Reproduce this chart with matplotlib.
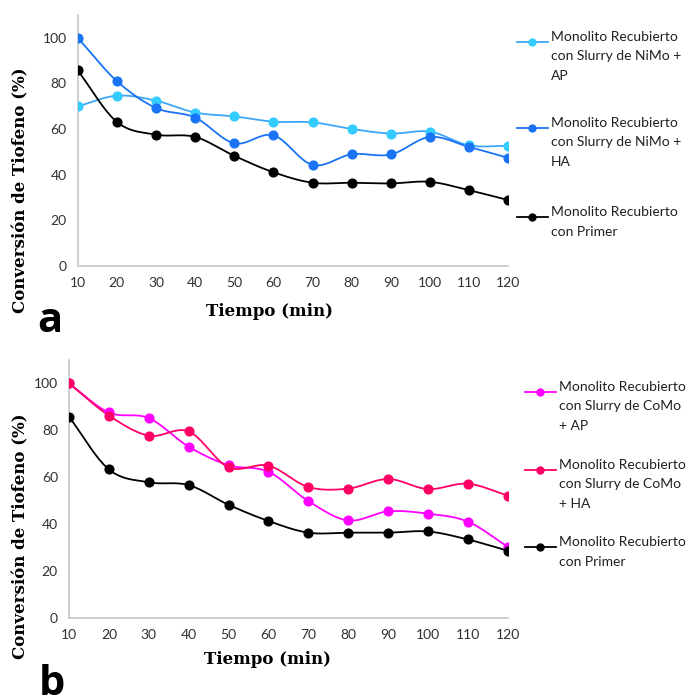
import numpy as np
import matplotlib
matplotlib.use("Agg")
import matplotlib.pyplot as plt
from matplotlib.lines import Line2D

# Tiempo de reacción (min)
tiempo = [10, 20, 30, 40, 50, 60, 70, 80, 90, 100, 110, 120]

# Panel a: catalizadores NiMo
nimo_ap = [69.9, 74.6, 72.4, 67.2, 65.5, 63.2, 62.9, 60.0, 58.0, 58.8, 52.8, 52.6]
nimo_ha = [100.0, 81.0, 69.2, 65.0, 53.7, 57.2, 44.2, 48.9, 48.8, 56.5, 52.1, 47.3]
primer_a = [85.7, 63.1, 57.5, 56.5, 48.2, 41.0, 36.4, 36.4, 36.1, 36.8, 33.1, 28.8]

# Panel b: catalizadores CoMo
como_ap = [100.0, 87.6, 85.2, 73.0, 65.1, 62.3, 49.8, 41.5, 45.4, 44.4, 41.0, 30.3]
como_ha = [100.0, 86.3, 77.7, 79.5, 64.2, 64.9, 55.8, 55.1, 59.2, 54.9, 57.2, 52.1]
primer_b = [85.8, 63.3, 57.8, 56.6, 48.2, 41.3, 36.3, 36.3, 36.3, 36.8, 33.4, 28.6]

labels_a = ["Monolito Recubierto\ncon Slurry de NiMo +\nAP",
            "Monolito Recubierto\ncon Slurry de NiMo +\nHA",
            "Monolito Recubierto\ncon Primer"]
labels_b = ["Monolito Recubierto\ncon Slurry de CoMo\n+ AP",
            "Monolito Recubierto\ncon Slurry de CoMo\n+ HA",
            "Monolito Recubierto\ncon Primer"]

TICK_FONT = "Lato"
LABEL_FONT = "DejaVu Serif"
W, H = 689, 698


def smooth(x, y, n=20):
    # curva suavizada tipo Catmull-Rom que pasa por los puntos medidos
    x = np.asarray(x, float)
    y = np.asarray(y, float)
    px = np.concatenate([[2 * x[0] - x[1]], x, [2 * x[-1] - x[-2]]])
    py = np.concatenate([[2 * y[0] - y[1]], y, [2 * y[-1] - y[-2]]])
    xs, ys = [], []
    t = np.linspace(0, 1, n, endpoint=False)
    for i in range(1, len(px) - 2):
        for p, out in ((px, xs), (py, ys)):
            p0, p1, p2, p3 = p[i - 1], p[i], p[i + 1], p[i + 2]
            out.extend(0.5 * ((2 * p1) + (-p0 + p2) * t
                              + (2 * p0 - 5 * p1 + 4 * p2 - p3) * t ** 2
                              + (-p0 + 3 * p1 - 3 * p2 + p3) * t ** 3))
    xs.append(x[-1])
    ys.append(y[-1])
    return xs, ys


def draw_panel(ax, series, styles, xlab_pos, ylab_pos):
    for y, (lc, mc) in zip(series, styles):
        sx, sy = smooth(tiempo, y)
        ax.plot(sx, sy, color=lc, lw=1.3, zorder=2)
        ax.plot(tiempo, y, ls="none", marker="o", ms=6.3, color=mc, zorder=3)
    ax.set_xlim(10, 120)
    ax.set_ylim(0, 110)
    ax.set_xticks(tiempo)
    ax.set_yticks([0, 20, 40, 60, 80, 100])
    for s in ("top", "right"):
        ax.spines[s].set_visible(False)
    for s in ("left", "bottom"):
        ax.spines[s].set_color("#c8c8c8")
        ax.spines[s].set_linewidth(1.2)
    ax.tick_params(length=0, labelsize=10, colors="#303030", pad=8)
    for lab in ax.get_xticklabels() + ax.get_yticklabels():
        lab.set_fontfamily(TICK_FONT)
    # títulos de ejes colocados en coordenadas de figura (px)
    fig.text(xlab_pos[0] / W, 1 - xlab_pos[1] / H, "Tiempo (min)",
             fontfamily=LABEL_FONT, fontweight="bold", fontsize=12,
             ha="center", va="center")
    fig.text(ylab_pos[0] / W, 1 - ylab_pos[1] / H, "Conversión de Tiofeno (%)",
             fontfamily=LABEL_FONT, fontweight="bold", fontsize=12,
             ha="center", va="center", rotation=90)


def draw_legend(fig, labels, styles, x0, ys):
    for lab, (lc, mc), yy in zip(labels, styles, ys):
        fig.add_artist(Line2D([x0 / W, (x0 + 31) / W], [1 - yy / H] * 2,
                              color=lc, lw=1.3))
        fig.add_artist(Line2D([(x0 + 15) / W], [1 - yy / H], marker="o",
                              ms=5, color=mc))
        fig.text((x0 + 34) / W, 1 - (yy - 11) / H, lab, fontfamily=TICK_FONT,
                 fontsize=10, va="top", ha="left", color="#202020",
                 linespacing=1.75)


fig = plt.figure(figsize=(6.89, 6.98), dpi=100)

styles_a = [("#3ea6f7", "#33ccff"), ("#1a73f5", "#1a73f5"), ("black", "black")]
styles_b = [("#ff00ff", "#ff00ff"), ("#ff0066", "#ff0066"), ("black", "black")]

ax_a = fig.add_axes([77.7 / W, 1 - 265.7 / H, (508.3 - 77.7) / W, (265.7 - 15) / H])
draw_panel(ax_a, [nimo_ap, nimo_ha, primer_a], styles_a, (269, 311), (21, 190))

ax_b = fig.add_axes([69 / W, 1 - 617.7 / H, (507.7 - 69) / W, (617.7 - 360) / H])
draw_panel(ax_b, [como_ap, como_ha, primer_b], styles_b, (268, 660), (21, 536))

draw_legend(fig, labels_a, styles_a, 517, [41.7, 128, 217])
draw_legend(fig, labels_b, styles_b, 525, [392, 470, 547])

fig.text(37 / W, 1 - 332 / H, "a", fontsize=30, fontweight="bold",
         fontfamily="Open Sans", va="baseline")
fig.text(39 / W, 1 - 695 / H, "b", fontsize=30, fontweight="bold",
         fontfamily="Open Sans", va="baseline")

fig.savefig("out.png", dpi=100)
